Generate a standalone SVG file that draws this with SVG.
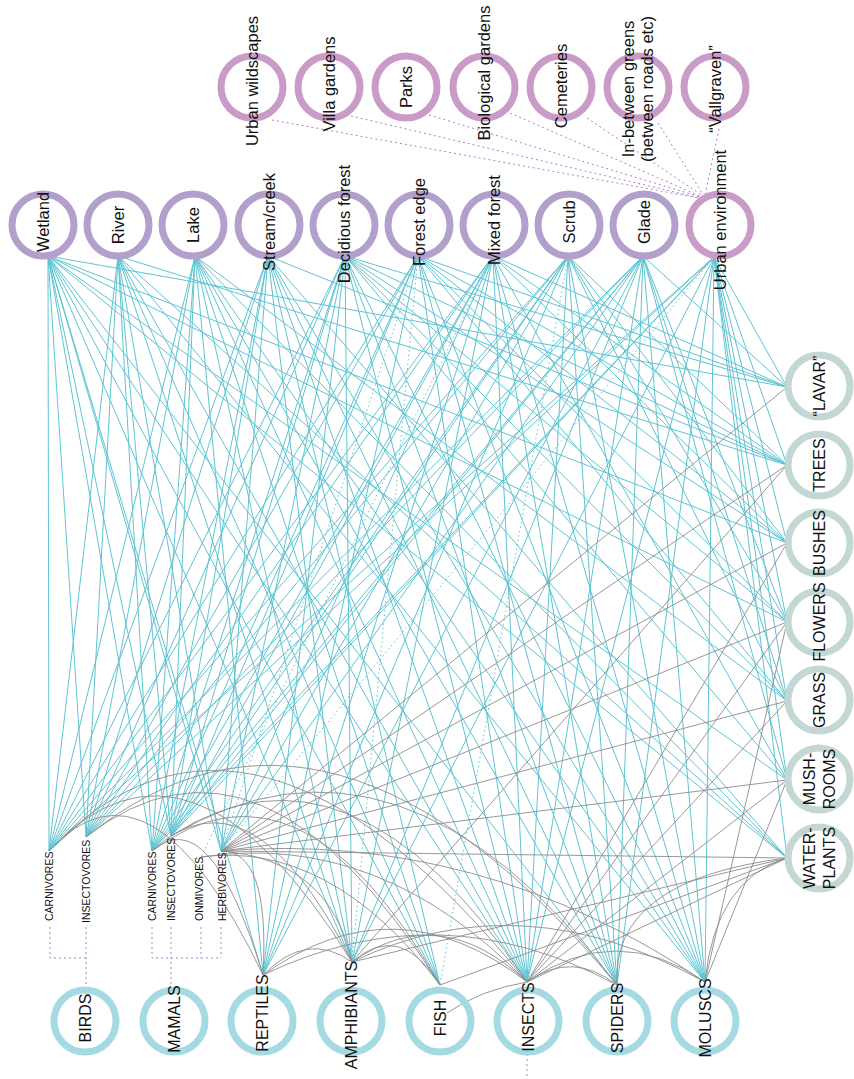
<svg xmlns="http://www.w3.org/2000/svg" width="854" height="1079" viewBox="0 0 854 1079">
<style>
text{font-family:"Liberation Sans",Arial,sans-serif;fill:#111;}
.lbl{font-size:16px;text-anchor:middle;}
.lt{font-size:16.5px;text-anchor:middle;}
.sm{font-size:10.5px;text-anchor:start;}
.ring{fill:none;stroke-width:7;}
.hab{stroke:#b39fcc;}
.urb{stroke:#ca9bc6;}
.pla{stroke:#c3d7d4;}
.ani{stroke:#a5dae3;}
.c{stroke:#5ec4d3;stroke-width:1;fill:none;}
.cd{stroke:#5ec4d3;stroke-width:1;fill:none;stroke-dasharray:1.5 3;}
.g{stroke:#8c8c8c;stroke-width:0.9;fill:none;}
.p{stroke:#b17fcf;stroke-width:1;fill:none;stroke-dasharray:2 3;}
</style>
<rect width="854" height="1079" fill="#fff"/>
<g id="connectors">
<!-- Wetland -->
<line class="c" x1="48" y1="256" x2="49" y2="851"/>
<line class="c" x1="48" y1="256" x2="86" y2="837"/>
<line class="c" x1="48" y1="256" x2="152" y2="851"/>
<line class="c" x1="48" y1="256" x2="171" y2="836"/>
<line class="c" x1="48" y1="256" x2="221" y2="851"/>
<line class="c" x1="48" y1="256" x2="263" y2="975"/>
<line class="c" x1="48" y1="256" x2="352" y2="962"/>
<line class="c" x1="48" y1="256" x2="440" y2="985"/>
<line class="c" x1="48" y1="256" x2="527" y2="982"/>
<line class="c" x1="48" y1="256" x2="617" y2="985"/>
<line class="c" x1="48" y1="256" x2="787" y2="387"/>
<line class="c" x1="48" y1="256" x2="787" y2="543"/>
<line class="c" x1="48" y1="256" x2="787" y2="622"/>
<line class="c" x1="48" y1="256" x2="787" y2="780"/>
<line class="c" x1="48" y1="256" x2="787" y2="858"/>
<!-- River -->
<line class="c" x1="118" y1="256" x2="49" y2="851"/>
<line class="c" x1="118" y1="256" x2="86" y2="837"/>
<line class="c" x1="118" y1="256" x2="152" y2="851"/>
<line class="c" x1="118" y1="256" x2="171" y2="836"/>
<line class="c" x1="118" y1="256" x2="221" y2="851"/>
<line class="c" x1="118" y1="256" x2="352" y2="962"/>
<line class="c" x1="118" y1="256" x2="440" y2="985"/>
<line class="c" x1="118" y1="256" x2="527" y2="982"/>
<line class="c" x1="118" y1="256" x2="705" y2="982"/>
<line class="c" x1="118" y1="256" x2="787" y2="858"/>
<line class="c" x1="118" y1="256" x2="787" y2="465"/>
<!-- Lake -->
<line class="c" x1="195" y1="256" x2="49" y2="851"/>
<line class="c" x1="195" y1="256" x2="86" y2="837"/>
<line class="c" x1="195" y1="256" x2="152" y2="851"/>
<line class="c" x1="195" y1="256" x2="171" y2="836"/>
<line class="c" x1="195" y1="256" x2="263" y2="975"/>
<line class="c" x1="195" y1="256" x2="352" y2="962"/>
<line class="c" x1="195" y1="256" x2="440" y2="985"/>
<line class="c" x1="195" y1="256" x2="527" y2="982"/>
<line class="c" x1="195" y1="256" x2="617" y2="985"/>
<line class="c" x1="195" y1="256" x2="705" y2="982"/>
<line class="c" x1="195" y1="256" x2="787" y2="858"/>
<line class="c" x1="195" y1="256" x2="787" y2="701"/>
<!-- Stream -->
<line class="c" x1="268" y1="256" x2="49" y2="851"/>
<line class="c" x1="268" y1="256" x2="86" y2="837"/>
<line class="c" x1="268" y1="256" x2="152" y2="851"/>
<line class="c" x1="268" y1="256" x2="171" y2="836"/>
<line class="c" x1="268" y1="256" x2="221" y2="851"/>
<line class="c" x1="268" y1="256" x2="352" y2="962"/>
<line class="c" x1="268" y1="256" x2="440" y2="985"/>
<line class="c" x1="268" y1="256" x2="527" y2="982"/>
<line class="c" x1="268" y1="256" x2="617" y2="985"/>
<line class="c" x1="268" y1="256" x2="705" y2="982"/>
<line class="c" x1="268" y1="256" x2="787" y2="858"/>
<line class="c" x1="268" y1="256" x2="787" y2="465"/>
<!-- Decidious forest -->
<line class="c" x1="345" y1="256" x2="49" y2="851"/>
<line class="c" x1="345" y1="256" x2="86" y2="837"/>
<line class="c" x1="345" y1="256" x2="152" y2="851"/>
<line class="c" x1="345" y1="256" x2="171" y2="836"/>
<line class="c" x1="345" y1="256" x2="221" y2="851"/>
<line class="c" x1="345" y1="256" x2="263" y2="975"/>
<line class="c" x1="345" y1="256" x2="352" y2="962"/>
<line class="c" x1="345" y1="256" x2="527" y2="982"/>
<line class="c" x1="345" y1="256" x2="617" y2="985"/>
<line class="c" x1="345" y1="256" x2="705" y2="982"/>
<line class="c" x1="345" y1="256" x2="787" y2="387"/>
<line class="c" x1="345" y1="256" x2="787" y2="465"/>
<line class="c" x1="345" y1="256" x2="787" y2="543"/>
<line class="c" x1="345" y1="256" x2="787" y2="622"/>
<line class="c" x1="345" y1="256" x2="787" y2="701"/>
<line class="c" x1="345" y1="256" x2="787" y2="780"/>
<!-- Forest edge -->
<line class="c" x1="418" y1="256" x2="49" y2="851"/>
<line class="c" x1="418" y1="256" x2="86" y2="837"/>
<line class="c" x1="418" y1="256" x2="152" y2="851"/>
<line class="c" x1="418" y1="256" x2="171" y2="836"/>
<line class="cd" x1="418" y1="256" x2="221" y2="851"/>
<line class="c" x1="418" y1="256" x2="263" y2="975"/>
<line class="cd" x1="418" y1="256" x2="352" y2="962"/>
<line class="c" x1="418" y1="256" x2="527" y2="982"/>
<line class="c" x1="418" y1="256" x2="617" y2="985"/>
<line class="c" x1="418" y1="256" x2="705" y2="982"/>
<line class="c" x1="418" y1="256" x2="787" y2="387"/>
<line class="c" x1="418" y1="256" x2="787" y2="465"/>
<line class="c" x1="418" y1="256" x2="787" y2="543"/>
<line class="c" x1="418" y1="256" x2="787" y2="622"/>
<line class="c" x1="418" y1="256" x2="787" y2="701"/>
<!-- Mixed forest -->
<line class="c" x1="493" y1="256" x2="49" y2="851"/>
<line class="c" x1="493" y1="256" x2="86" y2="837"/>
<line class="c" x1="493" y1="256" x2="152" y2="851"/>
<line class="c" x1="493" y1="256" x2="171" y2="836"/>
<line class="c" x1="493" y1="256" x2="221" y2="851"/>
<line class="cd" x1="493" y1="256" x2="201" y2="857"/>
<line class="c" x1="493" y1="256" x2="263" y2="975"/>
<line class="c" x1="493" y1="256" x2="352" y2="962"/>
<line class="c" x1="493" y1="256" x2="527" y2="982"/>
<line class="c" x1="493" y1="256" x2="617" y2="985"/>
<line class="c" x1="493" y1="256" x2="705" y2="982"/>
<line class="c" x1="493" y1="256" x2="787" y2="387"/>
<line class="c" x1="493" y1="256" x2="787" y2="465"/>
<line class="c" x1="493" y1="256" x2="787" y2="543"/>
<line class="c" x1="493" y1="256" x2="787" y2="780"/>
<!-- Scrub -->
<line class="c" x1="568" y1="256" x2="49" y2="851"/>
<line class="c" x1="568" y1="256" x2="86" y2="837"/>
<line class="c" x1="568" y1="256" x2="152" y2="851"/>
<line class="c" x1="568" y1="256" x2="171" y2="836"/>
<line class="c" x1="568" y1="256" x2="221" y2="851"/>
<line class="c" x1="568" y1="256" x2="263" y2="975"/>
<line class="cd" x1="568" y1="256" x2="440" y2="985"/>
<line class="c" x1="568" y1="256" x2="527" y2="982"/>
<line class="c" x1="568" y1="256" x2="617" y2="985"/>
<line class="c" x1="568" y1="256" x2="705" y2="982"/>
<line class="c" x1="568" y1="256" x2="787" y2="465"/>
<line class="c" x1="568" y1="256" x2="787" y2="543"/>
<line class="c" x1="568" y1="256" x2="787" y2="622"/>
<line class="c" x1="568" y1="256" x2="787" y2="701"/>
<!-- Glade -->
<line class="c" x1="643" y1="256" x2="49" y2="851"/>
<line class="c" x1="643" y1="256" x2="86" y2="837"/>
<line class="c" x1="643" y1="256" x2="152" y2="851"/>
<line class="c" x1="643" y1="256" x2="171" y2="836"/>
<line class="c" x1="643" y1="256" x2="221" y2="851"/>
<line class="c" x1="643" y1="256" x2="263" y2="975"/>
<line class="c" x1="643" y1="256" x2="352" y2="962"/>
<line class="c" x1="643" y1="256" x2="527" y2="982"/>
<line class="c" x1="643" y1="256" x2="617" y2="985"/>
<line class="c" x1="643" y1="256" x2="705" y2="982"/>
<line class="c" x1="643" y1="256" x2="787" y2="387"/>
<line class="c" x1="643" y1="256" x2="787" y2="622"/>
<line class="c" x1="643" y1="256" x2="787" y2="701"/>
<line class="c" x1="643" y1="256" x2="787" y2="780"/>
<!-- Urban environment -->
<line class="c" x1="714" y1="257" x2="49" y2="851"/>
<line class="c" x1="714" y1="257" x2="86" y2="837"/>
<line class="c" x1="714" y1="257" x2="152" y2="851"/>
<line class="c" x1="714" y1="257" x2="171" y2="836"/>
<line class="cd" x1="714" y1="257" x2="221" y2="851"/>
<line class="c" x1="714" y1="257" x2="352" y2="962"/>
<line class="c" x1="714" y1="257" x2="527" y2="982"/>
<line class="c" x1="714" y1="257" x2="617" y2="985"/>
<line class="c" x1="714" y1="257" x2="705" y2="982"/>
<line class="c" x1="714" y1="257" x2="787" y2="387"/>
<line class="c" x1="714" y1="257" x2="787" y2="465"/>
<line class="c" x1="714" y1="257" x2="787" y2="543"/>
<line class="c" x1="714" y1="257" x2="787" y2="622"/>
<line class="c" x1="714" y1="257" x2="787" y2="701"/>
<line class="c" x1="714" y1="257" x2="787" y2="780"/>
<line class="c" x1="714" y1="257" x2="787" y2="858"/>
<!-- plants to animals (gray) -->
<line class="g" x1="787" y1="387" x2="221" y2="851"/>
<line class="g" x1="787" y1="465" x2="352" y2="962"/>
<line class="g" x1="787" y1="465" x2="221" y2="851"/>
<line class="g" x1="787" y1="543" x2="221" y2="851"/>
<line class="g" x1="787" y1="543" x2="527" y2="982"/>
<line class="g" x1="787" y1="622" x2="221" y2="851"/>
<line class="g" x1="787" y1="622" x2="527" y2="982"/>
<line class="g" x1="787" y1="622" x2="705" y2="982"/>
<line class="g" x1="787" y1="701" x2="221" y2="851"/>
<line class="g" x1="787" y1="701" x2="527" y2="982"/>
<line class="g" x1="787" y1="780" x2="221" y2="851"/>
<line class="g" x1="787" y1="780" x2="527" y2="982"/>
<line class="g" x1="787" y1="780" x2="705" y2="982"/>
<line class="g" x1="787" y1="858" x2="221" y2="851"/>
<line class="g" x1="787" y1="858" x2="352" y2="962"/>
<line class="g" x1="787" y1="858" x2="440" y2="985"/>
<line class="g" x1="787" y1="858" x2="527" y2="982"/>
<path class="g" d="M787 858Q715 880 705 982"/>
<path class="g" d="M787 858Q610 880 617 985"/>
<!-- food web arcs (gray) -->
<path class="g" d="M49 851Q250 640 527 982"/>
<path class="g" d="M49 851Q190 700 352 962"/>
<path class="g" d="M49 851Q150 740 263 975"/>
<path class="g" d="M86 837Q330 640 617 985"/>
<path class="g" d="M86 837Q260 700 440 985"/>
<path class="g" d="M152 851Q250 760 352 962"/>
<path class="g" d="M152 851Q300 740 440 985"/>
<path class="g" d="M152 851Q210 800 263 975"/>
<path class="g" d="M171 836Q350 720 527 982"/>
<path class="g" d="M171 836Q400 700 617 985"/>
<path class="g" d="M201 857Q330 840 440 985"/>
<path class="g" d="M201 857Q380 830 527 982"/>
<path class="g" d="M221 851Q270 850 263 975"/>
<path class="g" d="M221 851Q330 860 352 962"/>
<path class="g" d="M221 851Q480 830 705 982"/>
<path class="g" d="M263 975Q395 880 527 982"/>
<path class="g" d="M263 975Q440 890 617 985"/>
<path class="g" d="M263 975Q307 930 352 962"/>
<path class="g" d="M352 962Q440 900 527 982"/>
<path class="g" d="M352 962Q520 880 705 982"/>
<path class="g" d="M352 962Q400 920 440 985"/>
<path class="g" d="M447 1013Q480 990 527 982"/>
<path class="g" d="M527 982Q572 950 617 985"/>
<path class="g" d="M705 982Q616 920 527 982"/>
<!-- purple dotted: urban subtypes -->
<line class="p" x1="272" y1="120" x2="699" y2="198"/>
<line class="p" x1="351" y1="116" x2="700" y2="198"/>
<line class="p" x1="429" y1="115" x2="701" y2="197"/>
<line class="p" x1="510" y1="113" x2="702" y2="197"/>
<line class="p" x1="587" y1="118" x2="703" y2="196"/>
<line class="p" x1="658" y1="123" x2="704" y2="196"/>
<line class="p" x1="719" y1="129" x2="705" y2="195"/>
<!-- purple dotted brackets -->
<path class="p" d="M50 927V958H86"/>
<path class="p" d="M86 927V994"/>
<path class="p" d="M152 927V958H221"/>
<path class="p" d="M171 927V985"/>
<path class="p" d="M201 927V958"/>
<path class="p" d="M221 927V958"/>
<path class="p" d="M527 1054V1079"/>
</g>
<g id="urban-subtypes">
<g id="n-urban-wildscapes"><circle class="ring urb" cx="252" cy="87" r="31"/><text class="lt" transform="translate(252 81) rotate(-90)" dy="0.35em">Urban wildscapes</text></g>
<g id="n-villa-gardens"><circle class="ring urb" cx="329" cy="87" r="31"/><text class="lt" transform="translate(329 84) rotate(-90)" dy="0.35em">Villa gardens</text></g>
<g id="n-parks"><circle class="ring urb" cx="406" cy="87" r="31"/><text class="lt" transform="translate(406 87) rotate(-90)" dy="0.35em">Parks</text></g>
<g id="n-biological-gardens"><circle class="ring urb" cx="484" cy="87" r="31"/><text class="lt" transform="translate(484 73) rotate(-90)" dy="0.35em">Biological gardens</text></g>
<g id="n-cemeteries"><circle class="ring urb" cx="561" cy="87" r="31"/><text class="lt" transform="translate(561 86) rotate(-90)" dy="0.35em">Cemeteries</text></g>
<g id="n-inbetween"><circle class="ring urb" cx="638" cy="87" r="31"/><text class="lt" transform="translate(638 89) rotate(-90)"><tspan x="0" dy="-4">In-between greens</tspan><tspan x="0" dy="19">(between roads etc)</tspan></text></g>
<g id="n-vallgraven"><circle class="ring urb" cx="715" cy="87" r="31"/><text class="lt" transform="translate(715 89) rotate(-90)" dy="0.35em">“Vallgraven”</text></g>
</g>
<g id="habitats">
<g id="n-wetland"><circle class="ring hab" cx="43" cy="225" r="31"/><text class="lt" transform="translate(43 222) rotate(-90)" dy="0.35em">Wetland</text></g>
<g id="n-river"><circle class="ring hab" cx="118" cy="225" r="31"/><text class="lt" transform="translate(118 225) rotate(-90)" dy="0.35em">River</text></g>
<g id="n-lake"><circle class="ring hab" cx="193" cy="225" r="31"/><text class="lt" transform="translate(193 225) rotate(-90)" dy="0.35em">Lake</text></g>
<g id="n-stream"><circle class="ring hab" cx="269" cy="225" r="31"/><text class="lt" transform="translate(269 222) rotate(-90)" dy="0.35em">Stream/creek</text></g>
<g id="n-decidious"><circle class="ring hab" cx="344" cy="225" r="31"/><text class="lt" transform="translate(344 224) rotate(-90)" dy="0.35em">Decidious forest</text></g>
<g id="n-forest-edge"><circle class="ring hab" cx="419" cy="225" r="31"/><text class="lt" transform="translate(419 222) rotate(-90)" dy="0.35em">Forest edge</text></g>
<g id="n-mixed-forest"><circle class="ring hab" cx="494" cy="225" r="31"/><text class="lt" transform="translate(494 220) rotate(-90)" dy="0.35em">Mixed forest</text></g>
<g id="n-scrub"><circle class="ring hab" cx="569" cy="225" r="31"/><text class="lt" transform="translate(569 222) rotate(-90)" dy="0.35em">Scrub</text></g>
<g id="n-glade"><circle class="ring hab" cx="644" cy="225" r="31"/><text class="lt" transform="translate(644 222) rotate(-90)" dy="0.35em">Glade</text></g>
<g id="n-urban-environment"><circle class="ring urb" cx="720" cy="225" r="31"/><text class="lt" transform="translate(720 220) rotate(-90)" dy="0.35em">Urban environment</text></g>
</g>
<g id="plants">
<g id="n-lavar"><circle class="ring pla" cx="819" cy="386" r="31"/><text class="lbl" transform="translate(819 386) rotate(-90)" dy="0.35em">“LAVAR”</text></g>
<g id="n-trees"><circle class="ring pla" cx="819" cy="465" r="31"/><text class="lbl" transform="translate(819 465) rotate(-90)" dy="0.35em">TREES</text></g>
<g id="n-bushes"><circle class="ring pla" cx="819" cy="543" r="31"/><text class="lbl" transform="translate(819 543) rotate(-90)" dy="0.35em">BUSHES</text></g>
<g id="n-flowers"><circle class="ring pla" cx="819" cy="622" r="31"/><text class="lbl" transform="translate(819 622) rotate(-90)" dy="0.35em">FLOWERS</text></g>
<g id="n-grass"><circle class="ring pla" cx="819" cy="700" r="31"/><text class="lbl" transform="translate(819 700) rotate(-90)" dy="0.35em">GRASS</text></g>
<g id="n-mushrooms"><circle class="ring pla" cx="819" cy="779" r="31"/><text class="lbl" transform="translate(819 779) rotate(-90)"><tspan x="0" dy="-4">MUSH-</tspan><tspan x="0" dy="20">ROOMS</tspan></text></g>
<g id="n-waterplants"><circle class="ring pla" cx="819" cy="858" r="31"/><text class="lbl" transform="translate(819 858) rotate(-90)"><tspan x="0" dy="-4">WATER-</tspan><tspan x="0" dy="20">PLANTS</tspan></text></g>
</g>
<g id="diet-labels">
<text class="sm" transform="translate(53 921) rotate(-90)">CARNIVORES</text>
<text class="sm" transform="translate(90 923) rotate(-90)">INSECTOVORES</text>
<text class="sm" transform="translate(156 921) rotate(-90)">CARNIVORES</text>
<text class="sm" transform="translate(175 921) rotate(-90)">INSECTOVORES</text>
<text class="sm" transform="translate(203 921) rotate(-90)">ONMIVORES</text>
<text class="sm" transform="translate(226 921) rotate(-90)">HERBIVORES</text>
</g>
<g id="animals">
<g id="n-birds"><circle class="ring ani" cx="85" cy="1021" r="31"/><text class="lbl" transform="translate(85 1018) rotate(-90)" dy="0.35em">BIRDS</text></g>
<g id="n-mamals"><circle class="ring ani" cx="174" cy="1021" r="31"/><text class="lbl" transform="translate(174 1019) rotate(-90)" dy="0.35em">MAMALS</text></g>
<g id="n-reptiles"><circle class="ring ani" cx="262" cy="1021" r="31"/><text class="lbl" transform="translate(262 1013) rotate(-90)" dy="0.35em">REPTILES</text></g>
<g id="n-amphibiants"><circle class="ring ani" cx="351" cy="1021" r="31"/><text class="lbl" transform="translate(351 1015) rotate(-90)" dy="0.35em">AMPHIBIANTS</text></g>
<g id="n-fish"><circle class="ring ani" cx="440" cy="1021" r="31"/><text class="lbl" transform="translate(440 1018) rotate(-90)" dy="0.35em">FISH</text></g>
<g id="n-insects"><circle class="ring ani" cx="528" cy="1021" r="31"/><text class="lbl" transform="translate(528 1017) rotate(-90)" dy="0.35em">INSECTS</text></g>
<g id="n-spiders"><circle class="ring ani" cx="617" cy="1021" r="31"/><text class="lbl" transform="translate(617 1018) rotate(-90)" dy="0.35em">SPIDERS</text></g>
<g id="n-moluscs"><circle class="ring ani" cx="705" cy="1021" r="31"/><text class="lbl" transform="translate(705 1018) rotate(-90)" dy="0.35em">MOLUSCS</text></g>
</g>
</svg>
